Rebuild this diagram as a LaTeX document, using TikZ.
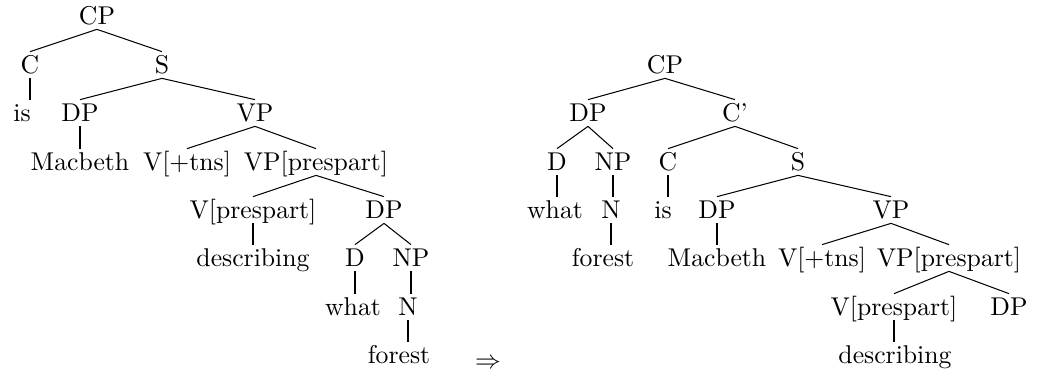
\documentclass[tikz,border=0pt]{standalone}
\tikzset{lbl/.style={inner sep=0pt, text height=7.7pt, text depth=1pt, minimum height=10pt}}
\begin{document}
\begin{tikzpicture}[x=0.389pt, y=-0.389pt, every node/.style={lbl}]
  \useasboundingbox (0,0) rectangle (1055,373);
  % tree before the move
  \node (lCP) at (97,16) {CP};
  \node (lC) at (30,65) {C};
  \node (lS) at (162,65) {S};
  \node (lis) at (22,113) {is};
  \node (lDP) at (80,113) {DP};
  \node (lVP) at (255,113) {VP};
  \node (lMac) at (80,162) {Macbeth};
  \node (lVt) at (187,162) {V[+tns]};
  \node (lVPp) at (316,162) {VP[prespart]};
  \node (lVpp) at (253,210) {V[prespart]};
  \node (lDPb) at (384,210) {DP};
  \node (ldesc) at (253,258) {describing};
  \node (lD) at (355,258) {D};
  \node (lNP) at (411,258) {NP};
  \node (lwhat) at (353,307) {what};
  \node (lN) at (408,307) {N};
  \node (lforest) at (399,355) {forest};
  % tree after the move
  \node (rCP) at (665,65) {CP};
  \node (rDP) at (588,113) {DP};
  \node (rCb) at (735,113) {C'};
  \node (rD) at (557,162) {D};
  \node (rNP) at (613,162) {NP};
  \node (rC) at (668,162) {C};
  \node (rS) at (798,162) {S};
  \node (rwhat) at (555,210) {what};
  \node (rN) at (611,210) {N};
  \node (ris) at (663,210) {is};
  \node (rDPs) at (717,210) {DP};
  \node (rVP) at (891,210) {VP};
  \node (rforest) at (603,258) {forest};
  \node (rMac) at (717,258) {Macbeth};
  \node (rVt) at (822,258) {V[+tns]};
  \node (rVPp) at (949,258) {VP[prespart]};
  \node (rVpp) at (894,307) {V[prespart]};
  \node (rDPb) at (1009,307) {DP};
  \node (rdesc) at (895,355) {describing};
  \node (arr) at (488,360) {$\Rightarrow$};
  % branches
  \foreach \a/\b in {lCP/lC, lCP/lS, lS/lDP, lS/lVP, lVP/lVt, lVP/lVPp, lVPp/lVpp, lVPp/lDPb,
      lDPb/lD, lDPb/lNP, rCP/rDP, rCP/rCb, rDP/rD, rDP/rNP, rCb/rC, rCb/rS, rS/rDPs, rS/rVP,
      rVP/rVt, rVP/rVPp, rVPp/rVpp, rVPp/rDPb}
    \draw (\a.south) -- (\b.north);
  \foreach \a/\b in {lC/lis, lDP/lMac, lVpp/ldesc, lD/lwhat, lNP/lN, lN/lforest,
      rD/rwhat, rNP/rN, rN/rforest, rC/ris, rDPs/rMac, rVpp/rdesc}
    \draw (\a.south) -- (\a.south |- \b.north);
\end{tikzpicture}
\end{document}
